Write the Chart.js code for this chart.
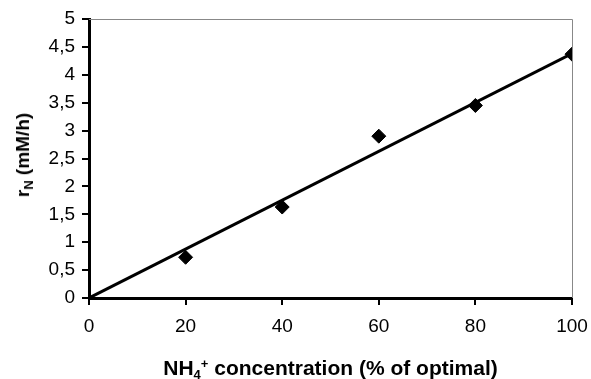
<!DOCTYPE html>
<html>
<head>
<meta charset="utf-8">
<script src="https://cdn.jsdelivr.net/npm/chart.js@4"></script>
<style>
    body { margin: 0; background: #fff; }
    #wrap { position: relative; width: 591px; height: 379px; font-family: "Liberation Sans", Arial, sans-serif; }
    #grafico { position: absolute; left: 0; top: 0; }
    .titulo-x { position: absolute; left: 89px; width: 483px; top: 356px; text-align: center; font-weight: bold; font-size: 21px; }
    .titulo-y { position: absolute; left: 24px; top: 155px; transform: translate(-50%, -50%) rotate(-90deg); white-space: nowrap; font-weight: bold; font-size: 19px; }
    sub, sup { font-size: 13px; }
    sub { vertical-align: -4px; }
    sup { vertical-align: 7px; }
</style>
</head>
<body>
<div id="wrap">
    <canvas id="grafico" width="591" height="379"></canvas>
    <div class="titulo-x">NH<sub>4</sub><sup>+</sup> concentration (% of optimal)</div>
    <div class="titulo-y">r<sub>N</sub> (mM/h)</div>
</div>
<script>
// Dados medidos
const concentracao = [20, 40, 60, 80, 100];
const taxaN = [0.73, 1.63, 2.9, 3.45, 4.37];

// Linha de tendência (pela origem)
const tendenciaX = [0, 100];
const tendenciaY = [0, 4.38];

// Borda superior e direita cinza
const bordaPlugin = {
    id: 'borda',
    beforeDatasetsDraw(chart) {
        const { ctx, chartArea } = chart;
        ctx.save();
        ctx.strokeStyle = '#888';
        ctx.lineWidth = 1;
        ctx.beginPath();
        ctx.moveTo(chartArea.left, chartArea.top + 0.5);
        ctx.lineTo(chartArea.right + 0.5, chartArea.top + 0.5);
        ctx.lineTo(chartArea.right + 0.5, chartArea.bottom);
        ctx.stroke();
        ctx.restore();
    }
};

const eixoGrid = {
    drawOnChartArea: false,
    drawTicks: true,
    tickLength: 7,
    color: '#000',
    lineWidth: 2
};

const fonteTicks = { size: 19, family: 'Liberation Sans' };

new Chart(document.getElementById('grafico').getContext('2d'), {
    type: 'scatter',
    data: {
        datasets: [
            {
                label: 'Tendência',
                data: tendenciaX.map((x, i) => ({ x: x, y: tendenciaY[i] })),
                showLine: true,
                borderColor: '#000',
                borderWidth: 3,
                pointRadius: 0,
                fill: false
            },
            {
                label: 'rN',
                data: concentracao.map((x, i) => ({ x: x, y: taxaN[i] })),
                pointStyle: 'rectRot',
                pointRadius: 7,
                pointBackgroundColor: '#000',
                pointBorderColor: '#000',
                borderWidth: 1
            }
        ]
    },
    options: {
        responsive: false,
        animation: false,
        layout: { padding: { top: 19, right: 19, left: 0, bottom: 0 } },
        plugins: {
            legend: { display: false },
            tooltip: { enabled: false }
        },
        scales: {
            x: {
                type: 'linear',
                min: 0,
                max: 100,
                ticks: { stepSize: 20, color: '#000', font: fonteTicks, padding: 10 },
                grid: eixoGrid,
                border: { color: '#000', width: 3 },
                afterFit(scale) {
                    scale.height = 81;
                    scale.paddingLeft = 0;
                    scale.paddingRight = 0;
                }
            },
            y: {
                min: 0,
                max: 5,
                ticks: {
                    stepSize: 0.5,
                    color: '#000',
                    font: fonteTicks,
                    padding: 7,
                    callback: function(value) {
                        return String(value).replace('.', ',');
                    }
                },
                grid: eixoGrid,
                border: { color: '#000', width: 3 },
                afterFit(scale) {
                    scale.width = 89;
                    scale.paddingTop = 0;
                    scale.paddingBottom = 0;
                }
            }
        }
    },
    plugins: [bordaPlugin]
});
</script>
</body>
</html>
